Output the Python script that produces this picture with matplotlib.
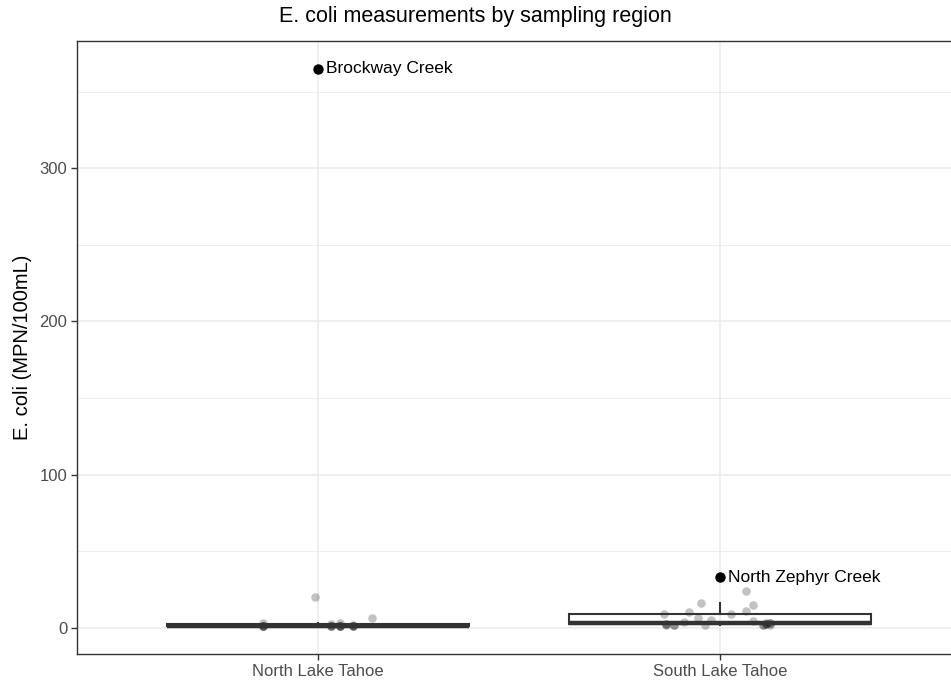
import numpy as np
import matplotlib.pyplot as plt

plt.rcParams["font.family"] = ["Liberation Sans", "DejaVu Sans"]

regions = ["North Lake Tahoe", "South Lake Tahoe"]

# E. coli (MPN/100mL) per site
north_ecoli = [3.3, 20, 2.6, 3.3, 2, 6.5,
               1, 1, 1, 1, 1, 1, 1, 1, 1, 1, 1, 1, 1, 1]
north_jitter = [-0.136, -0.007, 0.033, 0.055, 0.088, 0.135,
                -0.136, -0.136, -0.136, 0.033, 0.033, 0.033, 0.055,
                0.055, 0.055, 0.088, 0.088, 0.088, -0.136, 0.055]
south_ecoli = [9.2, 2.6, 2, 4, 10.5, 6.5, 16.3, 2, 5.2, 9.2, 24, 11, 15,
               4.6, 2, 2.6, 3.3, 2, 2, 2, 2, 2.6, 2.6, 3.3, 3.3]
south_jitter = [-0.139, -0.134, -0.114, -0.09, -0.077, -0.055, -0.047,
                -0.037, -0.022, 0.027, 0.064, 0.064, 0.082, 0.082, 0.107,
                0.114, 0.124, -0.134, -0.114, 0.107, 0.124, 0.114, -0.134,
                0.124, 0.114]

# labelled outliers
outlier_region = [1, 2]
outlier_value = [365, 33]
outlier_name = ["Brockway Creek", "North Zephyr Creek"]

fig = plt.figure(figsize=(9.51, 6.8), dpi=100)
ax = fig.add_axes([77 / 951, 26 / 680, 884 / 951, 613 / 680])

# jittered points
ax.scatter(1 + np.array(north_jitter), north_ecoli, s=38, color="black",
           alpha=0.24, linewidths=0, zorder=2)
ax.scatter(2 + np.array(south_jitter), south_ecoli, s=38, color="black",
           alpha=0.24, linewidths=0, zorder=2)

# boxes use all values, including the labelled sites
box_data = [north_ecoli + [outlier_value[0]], south_ecoli + [outlier_value[1]]]
ax.boxplot(box_data, positions=[1, 2], widths=0.75, showfliers=False,
           showcaps=False, patch_artist=True, manage_ticks=False,
           boxprops=dict(facecolor="none", edgecolor="#333333", linewidth=1.5),
           whiskerprops=dict(color="#333333", linewidth=1.5),
           medianprops=dict(color="#333333", linewidth=3.2, solid_capstyle="butt"),
           zorder=3)

ax.scatter(outlier_region, outlier_value, s=42, color="black", zorder=4)
for xr, v, name in zip(outlier_region, outlier_value, outlier_name):
    ax.annotate(name, (xr, v), xytext=(6, 0), textcoords="offset points",
                va="center", ha="left", fontsize=12.5, color="black")

ax.set_xlim(0.4, 2.6)
ax.set_ylim(-17.2, 383.2)
ax.set_xticks([1, 2])
ax.set_xticklabels(regions)
ax.set_yticks([0, 100, 200, 300])
ax.set_yticks([50, 150, 250, 350], minor=True)
ax.tick_params(axis="both", which="major", colors="#333333", labelcolor="#4D4D4D",
               labelsize=12, length=4, width=1, pad=3)
ax.tick_params(axis="y", which="minor", length=0)
ax.grid(True, which="major", color="#EBEBEB", linewidth=1.1, zorder=0)
ax.grid(True, which="minor", axis="y", color="#EBEBEB", linewidth=0.6, zorder=0)
ax.set_axisbelow(True)
for s in ax.spines.values():
    s.set_color("#333333")
    s.set_linewidth(1)
ax.spines["right"].set_visible(False)

ax.set_ylabel("E. coli (MPN/100mL)", fontsize=14.5, labelpad=5)
fig.text(0.5, 0.976, "E. coli measurements by sampling region",
         ha="center", va="center", fontsize=15.5)

fig.savefig("out.png", dpi=100)
